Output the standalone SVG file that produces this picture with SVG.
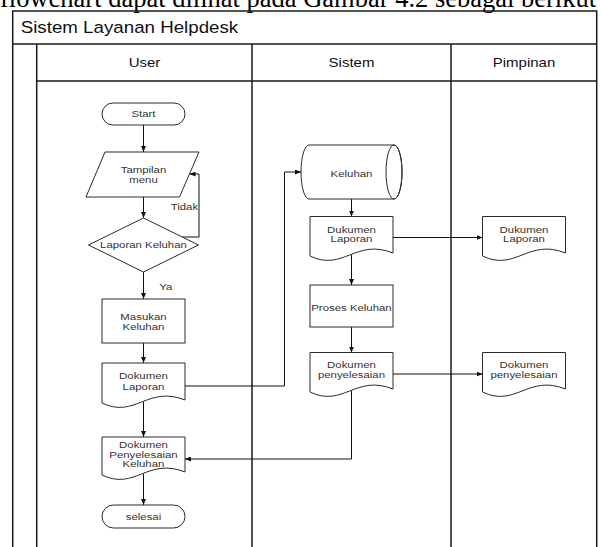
<svg xmlns="http://www.w3.org/2000/svg" width="601" height="547" viewBox="0 0 601 547">
<style>
.bg{fill:#fff}
.frame{fill:none;stroke:#1a1a1a;stroke-width:1.5}
.node{fill:#fff;stroke:#2a2a2a;stroke-width:1}
.conn{fill:none;stroke:#111;stroke-width:1}
.t{font-family:"Liberation Sans",Arial,sans-serif;font-size:9.5px;fill:#333;text-anchor:middle;transform-box:fill-box;transform-origin:center;transform:scaleX(1.2)}
.hd{font-family:"Liberation Sans",Arial,sans-serif;font-size:12.5px;fill:#111;text-anchor:middle;transform-box:fill-box;transform-origin:center;transform:scaleX(1.2)}
.title{font-family:"Liberation Sans",Arial,sans-serif;font-size:16.3px;fill:#111;transform-box:fill-box;transform-origin:left center;transform:scaleX(1.15)}
.cap{font-family:"Liberation Serif","Times New Roman",serif;font-size:26.5px;fill:#000}
</style>
<defs>
<marker id="ah" viewBox="0 0 6 5" refX="6" refY="2.5" markerWidth="6" markerHeight="5" orient="auto" markerUnits="userSpaceOnUse">
<path d="M0,0 L6,2.5 L0,5 Z" fill="#111"/>
</marker>
</defs>
<rect class="bg" x="0" y="0" width="601" height="547"/>
<text class="cap" x="0" y="7.3">flowchart dapat dilihat pada Gambar 4.2 sebagai berikut</text>

<g id="swimlanes">
<path class="frame" d="M12.7,547 V11 H596.7 V547"/>
<path class="frame" d="M12.7,44 H596.7"/>
<path class="frame" d="M36.7,44 V547"/>
<path class="frame" d="M36.7,81 H596.7"/>
<path class="frame" d="M252,44 V547"/>
<path class="frame" d="M451,44 V547"/>
<text class="title" x="20.7" y="33.3">Sistem Layanan Helpdesk</text>
<text class="hd" x="144.5" y="67.5">User</text>
<text class="hd" x="351.5" y="67.5">Sistem</text>
<text class="hd" x="524" y="67.5">Pimpinan</text>
</g>

<g id="connectors">
<path class="conn" marker-end="url(#ah)" d="M143.5,125 V152"/>
<path class="conn" marker-end="url(#ah)" d="M143.5,197 V218"/>
<path class="conn" marker-end="url(#ah)" d="M182,237 H199 V174 H189.5"/>
<path class="conn" marker-end="url(#ah)" d="M143.5,272 V299"/>
<path class="conn" marker-end="url(#ah)" d="M143.5,343 V363"/>
<path class="conn" marker-end="url(#ah)" d="M143.5,402 V437"/>
<path class="conn" marker-end="url(#ah)" d="M143.5,474 V505"/>
<path class="conn" marker-end="url(#ah)" d="M185,386 H284.5 V172 H301"/>
<path class="conn" marker-end="url(#ah)" d="M351.5,199 V216.5"/>
<path class="conn" marker-end="url(#ah)" d="M351.5,255 V285"/>
<path class="conn" marker-end="url(#ah)" d="M351.5,327 V352.5"/>
<path class="conn" marker-end="url(#ah)" d="M351.5,391 V459 H185"/>
<path class="conn" marker-end="url(#ah)" d="M393,237.5 H482.5"/>
<path class="conn" marker-end="url(#ah)" d="M393,374 H482.5"/>
<text class="t" x="184.5" y="210">Tidak</text>
<text class="t" x="165.8" y="290">Ya</text>
</g>

<g id="start">
<rect class="node" x="102" y="103" width="83" height="22" rx="11" ry="11"/>
<text class="t" x="143.5" y="117.3">Start</text>
</g>
<g id="tampilan-menu">
<polygon class="node" points="105,152 199,152 179.5,197 86,197"/>
<text class="t" x="143.5" y="173.3">Tampilan</text>
<text class="t" x="143.5" y="183.3">menu</text>
</g>
<g id="laporan-keluhan">
<polygon class="node" points="143.5,218 198.5,245 143.5,272 88.5,245"/>
<text class="t" x="143.5" y="248.3">Laporan Keluhan</text>
</g>
<g id="masukan-keluhan">
<rect class="node" x="102" y="299" width="83" height="44"/>
<text class="t" x="143.5" y="320">Masukan</text>
<text class="t" x="143.5" y="330">Keluhan</text>
</g>
<g id="user-dokumen-laporan">
<path class="node" d="M102,363 H185 V400 C147.6,385 135.2,419 102,403 Z"/>
<text class="t" x="143.5" y="379.3">Dokumen</text>
<text class="t" x="143.5" y="390">Laporan</text>
</g>
<g id="user-dokumen-penyelesaian">
<path class="node" d="M102,437 H185 V472 C147.6,457 135.2,491 102,475 Z"/>
<text class="t" x="143.5" y="448.3">Dokumen</text>
<text class="t" x="143.5" y="457.6">Penyelesaian</text>
<text class="t" x="143.5" y="466.6">Keluhan</text>
</g>
<g id="selesai">
<rect class="node" x="102" y="505" width="83" height="23" rx="11.5" ry="11.5"/>
<text class="t" x="143.5" y="520">selesai</text>
</g>

<g id="keluhan-data">
<path class="node" d="M309,145 H394 A8,27 0 0 1 394,199 H309 A8,27 0 0 1 309,145 Z"/>
<ellipse cx="394" cy="172" rx="8" ry="27" fill="none" stroke="#2a2a2a" stroke-width="1"/>
<text class="t" x="351.5" y="176.6">Keluhan</text>
</g>
<g id="sistem-dukumen-laporan">
<path class="node" d="M310,216.5 H393 V253 C355.6,238 343.2,272 310,256 Z"/>
<text class="t" x="351.5" y="232.6">Dukumen</text>
<text class="t" x="351.5" y="241.6">Laporan</text>
</g>
<g id="proses-keluhan">
<rect class="node" x="310" y="285" width="83" height="42"/>
<text class="t" x="351.5" y="310.6">Proses Keluhan</text>
</g>
<g id="sistem-dokumen-penyelesaian">
<path class="node" d="M310,352.5 H393 V389 C355.6,374 343.2,408 310,392 Z"/>
<text class="t" x="351.5" y="368.3">Dokumen</text>
<text class="t" x="351.5" y="378.3">penyelesaian</text>
</g>

<g id="pimpinan-dukumen-laporan">
<path class="node" d="M482.5,216.5 H565.5 V253 C528.1,238 515.7,272 482.5,256 Z"/>
<text class="t" x="524" y="232.6">Dukumen</text>
<text class="t" x="524" y="241.6">Laporan</text>
</g>
<g id="pimpinan-dokumen-penyelesaian">
<path class="node" d="M482.5,352.5 H565.5 V389 C528.1,374 515.7,408 482.5,392 Z"/>
<text class="t" x="524" y="368.3">Dokumen</text>
<text class="t" x="524" y="378.3">penyelesaian</text>
</g>
</svg>
